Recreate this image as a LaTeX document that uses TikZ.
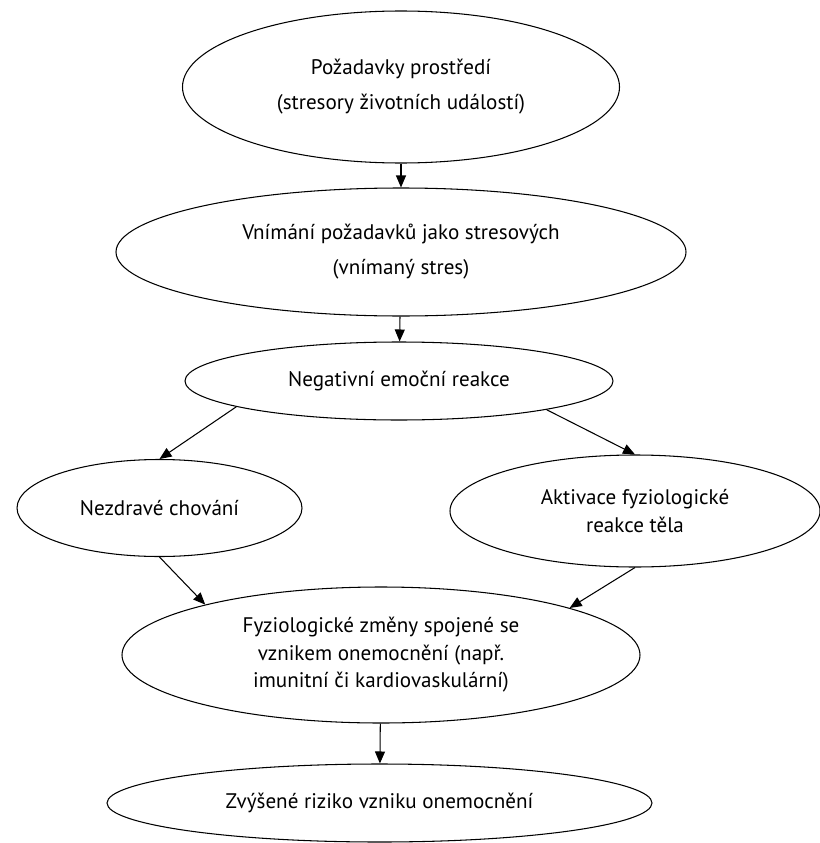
\documentclass[tikz,border=0pt]{standalone}
\usepackage{fontspec}
\setmainfont{PT Sans}
\usetikzlibrary{arrows.meta, shapes.geometric}
\tikzset{
  every picture/.style={line width=0.6pt},
  bubble/.style={draw, ellipse, inner sep=0pt, align=center, font=\fontsize{12}{15.6}\selectfont},
  arrow/.style={-{Triangle[length=2.4mm, width=2mm]}},
}

\begin{document}
\begin{tikzpicture}[wide/.style={font=\fontsize{12}{20}\selectfont}]
  \useasboundingbox (0,0) rectangle (16.4,-16.86);
  \node[bubble, wide, minimum width=8.74cm, minimum height=3.04cm] (env) at (8.02,-1.74) {Požadavky prostředí\\(stresory životních událostí)};
  \node[bubble, wide, minimum width=11.4cm, minimum height=2.56cm] (perc) at (8.02,-5.04) {Vnímání požadavků jako stresových\\(vnímaný stres)};
  \node[bubble, minimum width=8.56cm, minimum height=1.56cm] (emo) at (7.98,-7.62) {Negativní emoční reakce};
  \node[bubble, minimum width=5.7cm, minimum height=1.94cm] (unh) at (3.19,-10.16) {Nezdravé chování};
  \node[bubble, minimum width=7.4cm, minimum height=2.24cm] (act) at (12.70,-10.22) {Aktivace fyziologické\\reakce těla};
  \node[bubble, minimum width=10.36cm, minimum height=2.72cm] (phys) at (7.62,-13.10) {Fyziologické změny spojené se\\vznikem onemocnění (např.\\imunitní či kardiovaskulární)};
  \node[bubble, minimum width=10.9cm, minimum height=1.56cm] (risk) at (7.59,-16.06) {Zvýšené riziko vzniku onemocnění};
  \draw[arrow] (env) -- (perc);
  \draw[arrow] (perc) -- (emo);
  \draw[arrow] (emo.189) -- (unh.north);
  \draw[arrow] (emo.349) -- (act.north);
  \draw[arrow] (unh.south) -- (phys.164);
  \draw[arrow] (act.south) -- (phys.14.5);
  \draw[arrow] (phys) -- (risk);
\end{tikzpicture}
\end{document}
